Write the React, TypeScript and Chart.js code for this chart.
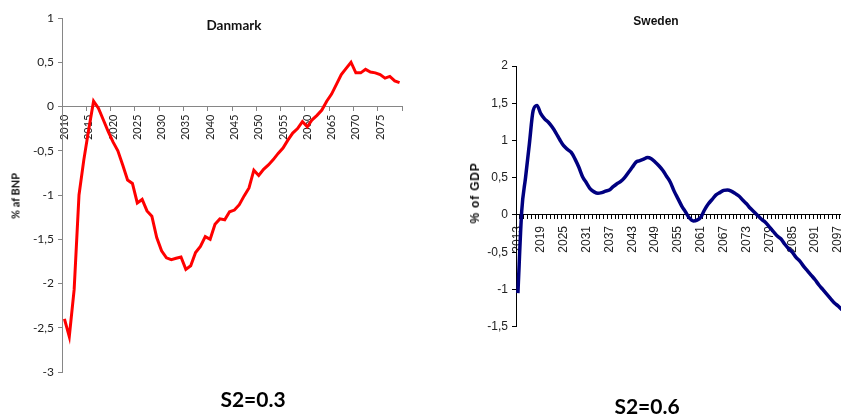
import React, { useEffect, useRef } from 'react';
import { Chart, registerables } from 'chart.js';

Chart.register(...registerables);

// ---------- Data ----------
const dkYears = [
  '2010','2011','2012','2013','2014','2015','2016','2017','2018','2019',
  '2020','2021','2022','2023','2024','2025','2026','2027','2028','2029',
  '2030','2031','2032','2033','2034','2035','2036','2037','2038','2039',
  '2040','2041','2042','2043','2044','2045','2046','2047','2048','2049',
  '2050','2051','2052','2053','2054','2055','2056','2057','2058','2059',
  '2060','2061','2062','2063','2064','2065','2066','2067','2068','2069',
  '2070','2071','2072','2073','2074','2075','2076','2077','2078','2079',
];

const dkValues = [
  -2.4, -2.6, -2.07, -1.0, -0.6, -0.26, 0.06, -0.02, -0.15, -0.28,
  -0.4, -0.5, -0.66, -0.83, -0.87, -1.09, -1.05, -1.18, -1.24, -1.48,
  -1.63, -1.71, -1.73, -1.715, -1.7, -1.84, -1.8, -1.65, -1.58, -1.47,
  -1.5, -1.33, -1.27, -1.28, -1.19, -1.17, -1.11, -1.01, -0.92, -0.72,
  -0.78, -0.71, -0.66, -0.6, -0.53, -0.47, -0.38, -0.3, -0.25, -0.17,
  -0.23, -0.15, -0.1, -0.04, 0.06, 0.14, 0.25, 0.36, 0.43, 0.5,
  0.38, 0.38, 0.42, 0.39, 0.38, 0.36, 0.32, 0.34, 0.29, 0.27,
];

const seYears = [
  '2013','2014','2015','2016','2017','2018','2019','2020','2021','2022',
  '2023','2024','2025','2026','2027','2028','2029','2030','2031','2032',
  '2033','2034','2035','2036','2037','2038','2039','2040','2041','2042',
  '2043','2044','2045','2046','2047','2048','2049','2050','2051','2052',
  '2053','2054','2055','2056','2057','2058','2059','2060','2061','2062',
  '2063','2064','2065','2066','2067','2068','2069','2070','2071','2072',
  '2073','2074','2075','2076','2077','2078','2079','2080','2081','2082',
  '2083','2084','2085','2086','2087','2088','2089','2090','2091','2092',
  '2093','2094','2095','2096','2097','2098','2099','2100',
];

const seValues = [
  -1.05, 0.05, 0.5, 0.95, 1.4, 1.47, 1.36, 1.29, 1.245, 1.18,
  1.1, 1.01, 0.93, 0.88, 0.84, 0.75, 0.64, 0.51, 0.43, 0.35,
  0.31, 0.29, 0.3, 0.32, 0.335, 0.38, 0.42, 0.45, 0.5, 0.57,
  0.64, 0.71, 0.73, 0.75, 0.77, 0.755, 0.71, 0.66, 0.6, 0.52,
  0.44, 0.32, 0.22, 0.12, 0.04, -0.04, -0.08, -0.07, -0.03, 0.07,
  0.15, 0.21, 0.27, 0.3, 0.33, 0.335, 0.32, 0.29, 0.255, 0.2,
  0.15, 0.09, 0.04, -0.01, -0.06, -0.1, -0.16, -0.22, -0.28, -0.32,
  -0.39, -0.45, -0.5, -0.57, -0.62, -0.69, -0.75, -0.81, -0.87, -0.94,
  -1.0, -1.06, -1.12, -1.18, -1.22, -1.27, -1.3, -1.33,
];

const dkLabelStep = 5;
const seLabelStep = 6;

type Cfg = {
  labels: string[];
  values: number[];
  color: string;
  lineWidth: number;
  smooth: boolean;
  yMin: number;
  yMax: number;
  axisWidth: number;
  padTop: number;
  padRight: number;
  padBottom: number;
  axisColor: string;
  textColor: string;
  yFont: any;
  xFont: any;
  xPad: number;
  showLabel: (i: number) => boolean;
  showTick: (i: number | undefined) => boolean;
};

function makeChart(canvas: HTMLCanvasElement, cfg: Cfg) {
  return new Chart(canvas, {
    type: 'line',
    data: {
      labels: cfg.labels,
      datasets: [
        {
          data: cfg.values,
          borderColor: cfg.color,
          borderWidth: cfg.lineWidth,
          pointRadius: 0,
          fill: false,
          tension: cfg.smooth ? 0.4 : 0,
          cubicInterpolationMode: cfg.smooth ? 'monotone' : 'default',
        } as any,
      ],
    },
    options: {
      responsive: false,
      animation: false,
      devicePixelRatio: 1,
      events: [],
      layout: { padding: { left: 0, top: cfg.padTop, right: cfg.padRight, bottom: cfg.padBottom } },
      plugins: { legend: { display: false }, tooltip: { enabled: false }, title: { display: false } },
      scales: {
        x: {
          type: 'category',
          position: { y: 0 } as any,
          offset: true,
          afterFit: (s: any) => {
            s.paddingLeft = 0;
            s.paddingRight = 0;
          },
          grid: {
            offset: true,
            drawOnChartArea: false,
            drawTicks: true,
            tickLength: 4,
            tickColor: (ctx: any) => (cfg.showTick(ctx.index) ? cfg.axisColor : 'rgba(0,0,0,0)'),
          },
          border: { display: true, color: cfg.axisColor, width: 1 },
          ticks: {
            autoSkip: false,
            maxRotation: 90,
            minRotation: 90,
            padding: cfg.xPad,
            color: cfg.textColor,
            font: cfg.xFont,
            callback: function (this: any, val: any, idx: number) {
              return cfg.showLabel(idx) ? cfg.labels[idx] : '';
            },
          },
        },
        y: {
          type: 'linear',
          min: cfg.yMin,
          max: cfg.yMax,
          afterFit: (s: any) => {
            s.width = cfg.axisWidth;
          },
          grid: { drawOnChartArea: false, drawTicks: true, tickLength: 4, tickColor: cfg.axisColor },
          border: { display: true, color: cfg.axisColor, width: 1 },
          ticks: {
            stepSize: 0.5,
            padding: 4,
            color: cfg.textColor,
            font: cfg.yFont,
            callback: (v: any) => String(Math.round(Number(v) * 10) / 10).replace('.', ','),
          },
        },
      },
    } as any,
  });
}

export default function App() {
  const leftRef = useRef<HTMLCanvasElement>(null);
  const rightRef = useRef<HTMLCanvasElement>(null);

  useEffect(() => {
    const c1 = makeChart(leftRef.current!, {
      labels: dkYears,
      values: dkValues,
      color: '#ff0000',
      lineWidth: 3,
      smooth: false,
      yMin: -3,
      yMax: 1,
      axisWidth: 62,
      padTop: 18,
      padRight: 18,
      padBottom: 42,
      axisColor: '#868686',
      textColor: '#222222',
      yFont: { family: 'Lato', size: 12 },
      xFont: { family: 'Lato', size: 11 },
      xPad: 4,
      showLabel: (i) => i % dkLabelStep === 0,
      showTick: (i) => i === undefined || i % dkLabelStep === 0,
    });
    const c2 = makeChart(rightRef.current!, {
      labels: seYears,
      values: seValues,
      color: '#000080',
      lineWidth: 3.5,
      smooth: true,
      yMin: -1.5,
      yMax: 2,
      axisWidth: 96,
      padTop: 66,
      padRight: 8.7,
      padBottom: 87.3,
      axisColor: '#000000',
      textColor: '#222222',
      yFont: { family: 'Liberation Sans', size: 12 },
      xFont: { family: 'Liberation Sans', size: 12 },
      xPad: 7,
      showLabel: (i) => i % seLabelStep === 0,
      showTick: () => true,
    });
    return () => {
      c1.destroy();
      c2.destroy();
    };
  }, []);

  const center: React.CSSProperties = {
    position: 'absolute',
    whiteSpace: 'nowrap',
    transform: 'translate(-50%, -50%)',
    lineHeight: 1,
    color: '#111',
  };
  const rot: React.CSSProperties = { ...center, transform: 'translate(-50%, -50%) rotate(-90deg)' };

  return (
    <div style={{ position: 'fixed', left: 0, top: 0, width: 841, height: 414, overflow: 'hidden', background: '#fff' }}>
      <canvas ref={leftRef} width={420} height={414} style={{ position: 'absolute', left: 0, top: 0 }} />
      <canvas ref={rightRef} width={440} height={414} style={{ position: 'absolute', left: 420, top: 0 }} />
      <div style={{ ...center, left: 234, top: 25, font: 'bold 13.5px Lato' }}>Danmark</div>
      <div style={{ ...rot, left: 15, top: 196, font: 'bold 11px Lato' }}>% af BNP</div>
      <div style={{ ...center, left: 253, top: 398, font: 'bold 21px Lato', color: '#000' }}>S2=0.3</div>
      <div style={{ ...center, left: 656, top: 20.5, font: 'bold 12px "Liberation Sans"' }}>Sweden</div>
      <div style={{ ...rot, left: 475, top: 193, font: 'bold 12px "Liberation Sans"', letterSpacing: '0.8px' }}>% of GDP</div>
      <div style={{ ...center, left: 647, top: 405, font: 'bold 21px Lato', color: '#000' }}>S2=0.6</div>
    </div>
  );
}
